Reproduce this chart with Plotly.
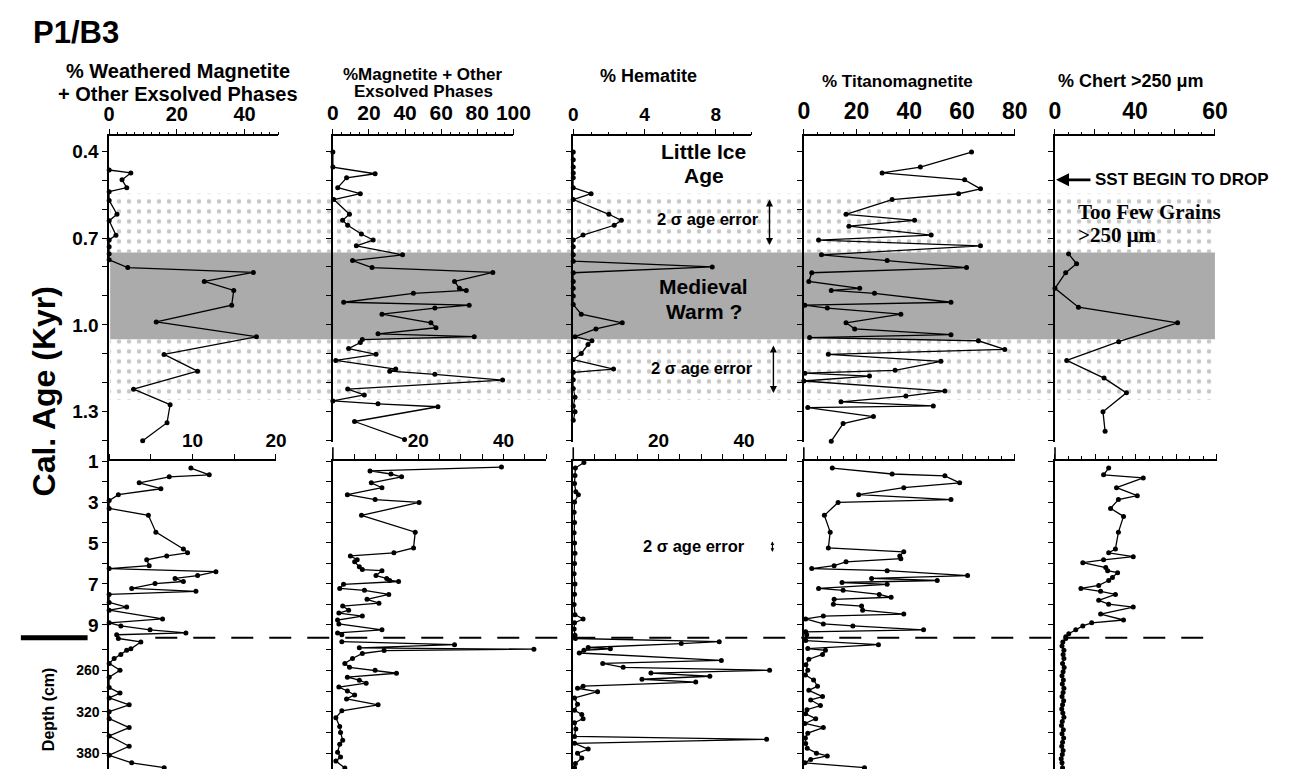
import plotly.graph_objects as go

# page body has an 8px default margin: map reference pixels into the figure
OFF = 8
W, H = 1273, 761
def fx(p): return (p - OFF) / W
def fy(p): return 1 - (p - OFF) / H

FONT = "Liberation Sans, Arial, sans-serif"
SERIF = "Liberation Serif, Times New Roman, serif"

# ---------------- DATA ----------------
# Column 1: % Weathered Magnetite + Other Exsolved Phases
wm_top_age = [0.465, 0.475, 0.499, 0.526, 0.54, 0.57, 0.618, 0.64, 0.69, 0.707, 0.73, 0.755, 0.775,
              0.802, 0.819, 0.85, 0.881, 0.932, 0.99, 1.041, 1.102, 1.16, 1.222, 1.276, 1.338, 1.40]
wm_top_val = [0, 6.4, 3.8, 5.2, 0, 0, 2.3, 0, 2.0, 0, 0, 0, 0,
              5.5, 42.6, 28.1, 36.8, 36.2, 13.9, 43.5, 16.2, 26.1, 7.2, 18, 17.1, 9.9]
wm_mid_age = [1.34, 1.67, 1.77, 2.06, 2.35, 2.64, 2.93, 3.31, 3.65, 4.47, 5.29, 5.48, 5.63, 5.82, 6.11,
              6.25, 6.40, 6.59, 6.73, 6.88, 6.98, 7.22, 7.36, 7.51, 7.9, 8.13, 8.28, 8.71, 8.9, 9.05,
              9.24, 9.39, 9.48]
wm_mid_val = [9.8, 12.0, 7.2, 3.6, 6.2, 1.1, 0, 0, 4.7, 5.6, 8.9, 9.4, 6.9, 4.5, 4.8,
              0, 12.8, 10.6, 7.9, 8.9, 5.5, 2.7, 10.4, 0, 0, 2.1, 0, 6.4, 0, 1.4,
              4.9, 9.2, 0.9]
wm_bot_dep = [214, 219, 229, 231, 237, 243, 250, 260, 270, 285, 293, 300, 310, 320, 330, 343, 355, 370,
              383, 394, 401]
wm_bot_val = [1.1, 3.8, 2.6, 2.1, 1.4, 0.6, 0, 1.3, 0, 0, 1.3, 0, 2.4, 0, 0, 2.4, 0, 2.4,
              0, 2.7, 6.6]

# Column 2: % Magnetite + Other Exsolved Phases
mg_top_age = [0.403, 0.455, 0.478, 0.492, 0.526, 0.547, 0.567, 0.618, 0.639, 0.656, 0.686, 0.707, 0.727,
              0.758, 0.778, 0.802, 0.819, 0.85, 0.874, 0.881, 0.891, 0.922, 0.932, 0.942, 0.963, 0.993,
              1.01, 1.031, 1.041, 1.051, 1.061, 1.082, 1.102, 1.123, 1.153, 1.16, 1.171, 1.191, 1.222,
              1.242, 1.263, 1.273, 1.283, 1.334, 1.396]
mg_top_val = [0, 0, 23.4, 7.6, 2.7, 15.2, 0.5, 9.2, 5.4, 8.2, 15.8, 22.3, 13.0,
              38.6, 10.9, 21.7, 88.6, 67.4, 70.1, 73.9, 44.6, 6.0, 75.5, 56.5, 27.2, 54.3,
              57.1, 25, 78.3, 16.3, 15.2, 8.7, 23.9, 1.6, 34.8, 31.5, 56.5, 94, 8.2,
              17.4, 0, 25, 58.2, 12, 39.7]
mg_mid_age = [1.29, 1.48, 1.63, 1.77, 2.06, 2.30, 2.64, 2.88, 3.02, 3.65, 4.47, 5.24, 5.48, 5.63, 5.82,
              5.92, 6.16, 6.30, 6.35, 6.59, 6.73, 6.83, 6.88, 7.02, 7.22, 7.31, 7.51, 7.75, 7.94, 8.08,
              8.28, 8.42, 8.57, 8.76, 8.95, 9.24, 9.39, 9.48]
mg_mid_val = [39.5, 8.7, 13.6, 16.1, 9.0, 11.5, 3.4, 9.9, 20.2, 6.7, 19.3, 18.9, 14.3, 4.1, 5.7,
              5.1, 6.2, 6.9, 11.5, 10.1, 12.6, 13.3, 15.4, 2.5, 1.6, 7.4, 13.1, 8.0, 10.8, 2.3,
              3.7, 1.4, 6.9, 1.1, 1.4, 11.5, 1.1, 2.1]
mg_bot_dep = [218.6, 222.9, 227.5, 229.5, 231.4, 235.7, 242.9, 250, 255.7, 260, 264.3, 270, 274.3, 278.6,
              284.3, 290, 295.7, 301.4, 310, 318.6, 328.6, 341.4, 350, 361.4, 367, 378.6, 385.7, 391.4,
              401.4]
mg_bot_val = [2.1, 28.5, 6.2, 47.1, 12, 6.9, 4.6, 2.8, 3.9, 9.9, 14.9, 3.4, 6.2, 7.8,
              1.4, 3.4, 5.1, 3.2, 10.6, 2.1, 0.7, 1.6, 1.8, 2.3, 1.6, 1.1, 1.8, 0.7,
              2.8]

# Column 3: % Hematite
he_top_age = [0.403, 0.43, 0.455, 0.475, 0.492, 0.526, 0.547, 0.567, 0.618, 0.639, 0.656, 0.69, 0.707,
              0.73, 0.758, 0.78, 0.80, 0.82, 0.85, 0.874, 0.90, 0.93, 0.963, 0.993, 1.014, 1.041,
              1.055, 1.068, 1.099, 1.12, 1.153, 1.164, 1.19, 1.22, 1.25, 1.28, 1.30, 1.33]
he_top_val = [0, 0, 0, 0, 0, 0, 1.0, 0, 2.0, 2.7, 2.3, 0.55, 0,
              0, 0, 0, 7.8, 0, 0, 0, 0, 0, 0.45, 2.75, 1.27, 0.1,
              1.05, 0.83, 0.45, 0, 2.26, 0, 0, 0, 0.1, 0, 0.1, 0]
he_mid_age = [1.07, 1.34, 1.7, 2.1, 2.5, 2.64, 3.0, 3.5, 4.0, 4.5, 5.0, 5.5, 6.0, 6.5, 7.0,
              7.5, 8.0, 8.5, 8.71, 8.9, 9.2, 9.5]
he_mid_val = [2.5, 0.5, 0.4, 0.3, 0.6, 1.2, 0.3, 0.2, 0.3, 0.2, 0.3, 0.4, 0.3, 0.2, 0.4,
              0.3, 0.2, 0.4, 2.3, 0.3, 0.2, 0.4]
he_bot_dep = [214, 218.6, 221.4, 227, 229, 231, 235, 245.7, 250, 255.7, 260, 264, 268.6, 273, 277,
              283, 286, 291, 300, 309, 318, 324, 330, 336, 345, 355.7, 360, 365.7, 374, 380, 387,
              395, 401]
he_bot_val = [0.5, 34.2, 25.3, 3.5, 8.7, 2.5, 1.4, 34.7, 6.9, 11.7, 46, 18.2, 32, 16.1, 28.7,
              2.3, 1.0, 5.7, 0.3, 1.0, 0.3, 2.0, 2.3, 0.3, 0.6, 0.3, 45.3, 0.3, 3.5, 1.0, 2.0,
              0.5, 0.3]

# Column 4: % Titanomagnetite
ti_top_age = [0.403, 0.455, 0.475, 0.499, 0.53, 0.547, 0.567, 0.618, 0.639, 0.659, 0.69, 0.707, 0.727,
              0.758, 0.778, 0.802, 0.82, 0.85, 0.874, 0.881, 0.891, 0.922, 0.932, 0.942, 0.963, 0.993,
              1.014, 1.034, 1.044, 1.055, 1.085, 1.102, 1.126, 1.157, 1.167, 1.177, 1.194, 1.229, 1.246,
              1.266, 1.28, 1.286, 1.317, 1.341, 1.402]
ti_top_val = [63.6, 44.2, 29.7, 61, 67, 58.7, 33.5, 16, 42, 17.1, 48.3, 5.6, 67,
              6.7, 31.6, 61.7, 3.0, 1.9, 21.2, 10.4, 26.8, 55.8, 0.4, 8.9, 36.8, 16,
              19.3, 55.8, 2.2, 66.2, 76.2, 9.3, 52, 34.6, 0.4, 24.9, 0, 53.5, 38.7,
              14.1, 49.1, 1.5, 26.4, 14.9, 10.4]
ti_mid_age = [1.34, 1.63, 1.72, 2.06, 2.30, 2.64, 2.88, 3.02, 3.65, 4.47, 5.24, 5.43, 5.63, 5.77, 5.92,
              6.11, 6.25, 6.35, 6.59, 6.73, 6.83, 6.93, 7.02, 7.22, 7.31, 7.51, 7.65, 7.75, 7.99, 8.08,
              8.28, 8.47, 8.57, 8.71, 8.95, 9.05, 9.24, 9.34, 9.48]
ti_mid_val = [10.8, 33.5, 53.5, 59.1, 37.9, 20.8, 55.8, 13, 7.8, 10, 9.3, 37.9, 36.4, 36.8, 16,
              11.5, 3.0, 31.6, 62.1, 25.7, 50.6, 14.5, 31.6, 5.6, 14.9, 28.6, 33.1, 11.5, 11.2, 21.9,
              22.3, 37.9, 7.4, 0.7, 7.4, 18.6, 45.4, 0.7, 1.1]
ti_bot_dep = [217, 222.9, 228.6, 231, 237, 244, 252, 260, 267, 274, 283, 289, 298, 303, 311, 317, 323,
              330, 337, 343, 351, 358, 366, 373, 380, 384, 389, 394, 401]
ti_bot_val = [0.7, 28.3, 1.5, 8.2, 7.1, 1.9, 0.8, 1.5, 0.6, 3.7, 5.2, 1.9, 7.1, 2.6, 6.3, 1.2, 0.7,
              4.5, 0.4, 7.4, 1.5, 0.6, 0.7, 1.3, 4.8, 8.9, 2.6, 0.4, 23]

# Column 5: % Chert >250 um
ch_top_age = [0.755, 0.789, 0.82, 0.874, 0.939, 0.993, 1.058, 1.123, 1.184, 1.235, 1.30, 1.368]
ch_top_val = [5.1, 8.1, 4.0, 0, 8.8, 46, 23.9, 4.4, 18.4, 26.8, 18, 18.8]
ch_mid_age = [1.34, 1.67, 1.82, 2.30, 2.69, 2.88, 3.31, 3.70, 4.47, 5.29, 5.48, 5.67, 5.82, 5.96, 6.20,
              6.35, 6.45, 6.69, 6.83, 7.07, 7.22, 7.36, 7.51, 7.80, 7.99, 8.13, 8.47, 8.76, 8.90, 9.05,
              9.24, 9.43, 9.58]
ch_mid_val = [19.9, 18, 32.7, 22.8, 30.5, 23.5, 20.6, 25.4, 23.5, 22.4, 19.9, 29, 18, 10.3, 18.8,
              19.5, 23.2, 21.3, 19.9, 16.2, 9.6, 16.9, 22.4, 16.2, 19.9, 29, 16.9, 25.4, 13.6, 10.3,
              7.7, 5.1, 4.0]
ch_bot_dep = [214, 219, 225, 231, 237, 243, 250, 256, 262, 268, 274, 280, 286, 292, 298, 304, 310, 316,
              322, 328, 334, 340, 346, 352, 358, 364, 370, 376, 382, 388, 394, 401]
ch_bot_val = [4.0, 2.9, 2.6, 3.3, 3.0, 3.3, 2.8, 3.4, 3.0, 2.6, 3.1, 2.7, 3.3, 3.0, 2.6, 3.2, 2.8, 2.5,
              2.9, 3.3, 2.7, 2.4, 3.1, 2.6, 3.2, 2.8, 2.5, 3.0, 2.7, 2.3, 2.6, 2.8]

# Shaded intervals (Cal. age, kyr)
medieval_band = [0.75, 1.05]
age_error_bands = [[0.545, 0.75], [1.05, 1.26]]

# ---------------- LAYOUT GEOMETRY (reference pixels) ----------------
TOP_PX = (128, 438)
TOP_RNG = [1.406, 0.349]
TOP1_PX = (128, 457)          # first column: axis line continuous to the mid panel
TOP1_RNG = [1.4706, 0.349]
MID_PX = (457, 636)
MID_RNG = [9.627, 1.0]
BOT_PX = (636, 769)
BOT_RNG = [402.9, 212.9]

columns = [
    dict(top=(wm_top_val, wm_top_age), mid=(wm_mid_val, wm_mid_age), bot=(wm_bot_val, wm_bot_dep),
         tdom=(105, 277.5), trng=[0, 50], ttv=[0, 20, 40], ttt=["0", "20", "40"], tminor=2.5, tfs=20,
         mdom=(105, 275), mrng=[0, 20], mtv=[0, 5, 10, 15, 20], mtt=["", "", "10", "", "20"], mminor=None,
         ylabels=True),
    dict(top=(mg_top_val, mg_top_age), mid=(mg_mid_val, mg_mid_age), bot=(mg_bot_val, mg_bot_dep),
         tdom=(333, 517), trng=[0, 100], ttv=[0, 20, 40, 60, 80, 100],
         ttt=["0", "20", "40", "60", "80", "100"], tminor=5, tfs=21,
         mdom=(333, 550.5), mrng=[0, 50], mtv=list(range(0, 55, 5)),
         mtt=["", "", "", "", "20", "", "", "", "40", "", ""], mminor=None, ylabels=False),
    dict(top=(he_top_val, he_top_age), mid=(he_mid_val, he_mid_age), bot=(he_bot_val, he_bot_dep),
         tdom=(578, 759.6), trng=[0, 10], ttv=[0, 4, 8], ttt=["0", "4", "8"], tminor=1, tfs=19,
         mdom=(578, 795.5), mrng=[0, 50], mtv=list(range(0, 55, 5)),
         mtt=["", "", "", "", "20", "", "", "", "40", "", ""], mminor=None, ylabels=False),
    dict(top=(ti_top_val, ti_top_age), mid=(ti_mid_val, ti_mid_age), bot=(ti_bot_val, ti_bot_dep),
         tdom=(813, 1028), trng=[0, 80], ttv=[0, 20, 40, 60, 80], ttt=["0", "20", "40", "60", "80"],
         tminor=5, tfs=23,
         mdom=(813, 1028), mrng=[0, 80], mtv=[0, 20, 40, 60, 80], mtt=[""] * 5, mminor=5, ylabels=False),
    dict(top=(ch_top_val, ch_top_age), mid=(ch_mid_val, ch_mid_age), bot=(ch_bot_val, ch_bot_dep),
         tdom=(1069, 1232), trng=[0, 60], ttv=[0, 15, 30, 45, 60], ttt=["0", "", "40", "", "60"],
         tminor=5, tfs=23,
         mdom=(1069, 1234), mrng=[0, 60], mtv=[0, 15, 30, 45, 60], mtt=[""] * 5, mminor=5, ylabels=False),
]

fig = go.Figure()
layout = {}

def clamp(v):
    return min(1.0, max(0.0, v))

def ydom(px):
    return [clamp(fy(px[1])), clamp(fy(px[0]))]

def xdom(px):
    return [clamp(fx(px[0])), clamp(fx(px[1]))]

# ---- background subplot for shaded bands (x in paper units) ----
BAND_X = (fx(106), fx(1232))
layout["xaxis"] = dict(domain=[0, 1], range=[0, 1], visible=False, fixedrange=True)
layout["yaxis"] = dict(domain=ydom(TOP_PX), range=TOP_RNG, visible=False, anchor="x")
fig.add_trace(go.Scatter(
    x=[BAND_X[0], BAND_X[1], BAND_X[1], BAND_X[0], BAND_X[0]],
    y=[medieval_band[0], medieval_band[0], medieval_band[1], medieval_band[1], medieval_band[0]],
    fill="toself", fillcolor="#ababab", mode="none", xaxis="x", yaxis="y", hoverinfo="skip"))
for b in age_error_bands:
    fig.add_trace(go.Scatter(
        x=[BAND_X[0], BAND_X[1], BAND_X[1], BAND_X[0], BAND_X[0]],
        y=[b[0], b[0], b[1], b[1], b[0]],
        fill="toself", fillcolor="rgba(0,0,0,0)", mode="none", xaxis="x", yaxis="y",
        fillpattern=dict(shape=".", fgcolor="#8f8f8f", bgcolor="rgba(0,0,0,0)", size=10,
                         solidity=0.16, fillmode="overlay"),
        hoverinfo="skip"))

line_style = dict(color="black", width=1.3)
marker_style = dict(color="black", size=5)

def tickfont(s):
    return dict(family=FONT, size=s, color="black", weight="bold")

idx = 2
for ci, c in enumerate(columns):
    for row in ("top", "mid", "bot"):
        xid, yid = f"x{idx}", f"y{idx}"
        xv, yv = c[row]
        fig.add_trace(go.Scatter(x=xv, y=yv, mode="lines+markers", line=line_style,
                                 marker=marker_style, xaxis=xid, yaxis=yid, cliponaxis=False,
                                 hoverinfo="skip"))
        if row == "top":
            xa = dict(domain=xdom(c["tdom"]), range=c["trng"], side="top", anchor=yid,
                      tickmode="array", tickvals=c["ttv"], ticktext=c["ttt"],
                      ticks="outside", ticklen=6, tickwidth=1.2, tickcolor="black",
                      minor=dict(dtick=c["tminor"], tick0=0, ticks="outside", ticklen=3,
                                 tickcolor="black", tickwidth=1),
                      showline=True, linecolor="black", linewidth=1.6,
                      tickfont=tickfont(c["tfs"]), showgrid=False, zeroline=False)
            px_ext, rng = (TOP1_PX, TOP1_RNG) if ci == 0 else (TOP_PX, TOP_RNG)
            ya = dict(domain=ydom(px_ext), range=rng, anchor=xid,
                      showline=True, linecolor="black", linewidth=1.6,
                      ticks="outside", ticklen=5, tickcolor="black", showgrid=False, zeroline=False)
            if c["ylabels"]:
                ya.update(tickmode="array", tickvals=[0.4, 0.7, 1.0, 1.3],
                          ticktext=["0.4", "0.7", "1.0", "1.3"], tickfont=tickfont(19),
                          minor=dict(dtick=0.1, tick0=0.4, ticks="outside", ticklen=5,
                                     tickcolor="black"))
            else:
                ya.update(tickmode="linear", tick0=0.4, dtick=0.1, showticklabels=False)
        elif row == "mid":
            xa = dict(domain=xdom(c["mdom"]), range=c["mrng"], side="top", anchor=yid,
                      tickmode="array", tickvals=c["mtv"], ticktext=c["mtt"],
                      ticks="outside", ticklen=5, tickwidth=1.2, tickcolor="black",
                      showline=True, linecolor="black", linewidth=1.6,
                      tickfont=tickfont(19), showgrid=False, zeroline=False)
            if c["mminor"]:
                xa["minor"] = dict(dtick=c["mminor"], tick0=0, ticks="outside", ticklen=3,
                                   tickcolor="black")
            ya = dict(domain=ydom(MID_PX), range=MID_RNG, anchor=xid,
                      showline=True, linecolor="black", linewidth=1.6,
                      ticks="outside", ticklen=5, tickcolor="black", showgrid=False, zeroline=False)
            if c["ylabels"]:
                ya.update(tickmode="array", tickvals=[1, 3, 5, 7, 9],
                          ticktext=["1", "3", "5", "7", "9"], tickfont=tickfont(19),
                          minor=dict(dtick=1, tick0=1, ticks="outside", ticklen=5,
                                     tickcolor="black"))
            else:
                ya.update(tickmode="linear", tick0=1, dtick=1, showticklabels=False)
        else:
            xa = dict(domain=xdom(c["mdom"]), range=c["mrng"], visible=False, anchor=yid)
            ya = dict(domain=ydom(BOT_PX), range=BOT_RNG, anchor=xid,
                      showline=True, linecolor="black", linewidth=1.6,
                      ticks="outside", ticklen=5, tickcolor="black", showgrid=False, zeroline=False)
            if c["ylabels"]:
                ya.update(tickmode="array", tickvals=[260, 320, 380],
                          ticktext=["260", "320", "380"], tickfont=tickfont(14),
                          minor=dict(dtick=30, tick0=230, ticks="outside", ticklen=5,
                                     tickcolor="black"))
            else:
                ya.update(tickmode="linear", tick0=230, dtick=30, showticklabels=False)
        layout[f"xaxis{idx}"] = xa
        layout[f"yaxis{idx}"] = ya
        idx += 1

def txt(text, x, y, size, xanchor="center", family=FONT, angle=0):
    return dict(text=f"<b>{text}</b>", x=fx(x), y=fy(y), xref="paper",
                yref="paper", showarrow=False, xanchor=xanchor, yanchor="middle", textangle=angle,
                font=dict(family=family, size=size, color="black"))

annotations = [
    txt("P1/B3", 25, 23, 31, xanchor="left"),
    txt("% Weathered Magnetite", 175, 62, 20),
    txt("+ Other Exsolved Phases", 175, 85, 20),
    txt("%Magnetite + Other", 425, 65, 17),
    txt("Exsolved Phases", 425, 82, 17),
    txt("% Hematite", 655, 67, 18),
    txt("% Titanomagnetite", 908, 72, 17),
    txt("% Chert >250 μm", 1146, 72, 18),
    txt("Cal. Age (Kyr)", 39, 386, 32, angle=-90),
    txt("Depth (cm)", 43, 708, 16, angle=-90),
    txt("Little Ice", 711, 143, 21),
    txt("Age", 711, 168, 21),
    txt("2 σ age error", 715, 212, 16.5),
    txt("Medieval", 711, 280, 21),
    txt("Warm ?", 711, 305, 21),
    txt("2 σ age error", 709, 363, 16.5),
    txt("2 σ age error", 701, 543, 16.5),
    txt("SST BEGIN TO DROP", 1108, 172, 17, xanchor="left"),
    txt("Too Few Grains", 1090, 205, 21, xanchor="left", family=SERIF),
    txt(">250 μm", 1090, 228, 21, xanchor="left", family=SERIF),
]

def arrow(x, y0, y1, size=1, width=1.4):
    return dict(x=fx(x), y=fy(y1), xref="paper", yref="paper", axref="pixel", ayref="pixel",
                ax=0, ay=-(y1 - y0), text="", showarrow=True, arrowhead=2, arrowsize=size,
                arrowwidth=width, arrowcolor="black", arrowside="end+start")

annotations += [
    arrow(778, 191, 238),
    arrow(782, 339, 388),
    arrow(781, 537, 549, size=0.6, width=1.2),
    dict(x=fx(1070), y=fy(172), xref="paper", yref="paper", axref="pixel", ayref="pixel",
         ax=36, ay=0, text="", showarrow=True, arrowhead=2, arrowsize=1, arrowwidth=2.6,
         arrowcolor="black"),
]

shapes = [
    dict(type="line", xref="paper", yref="paper", x0=fx(152), x1=fx(1220), y0=fy(636), y1=fy(636),
         line=dict(color="black", width=2, dash="22px,16px")),
    dict(type="line", xref="paper", yref="paper", x0=fx(15), x1=fx(83), y0=fy(636), y1=fy(636),
         line=dict(color="black", width=5)),
]
# short stubs of the lower y axes rising above the mid-panel x axis (columns 2-5)
for c in columns[1:]:
    shapes.append(dict(type="line", xref="paper", yref="paper", x0=fx(c["mdom"][0]), x1=fx(c["mdom"][0]),
                       y0=fy(443), y1=fy(457), line=dict(color="black", width=1.6)))

fig.update_layout(**layout)
fig.update_layout(width=W, height=H, autosize=False, margin=dict(l=0, r=0, t=0, b=0),
                  paper_bgcolor="white", plot_bgcolor="rgba(0,0,0,0)", showlegend=False,
                  annotations=annotations, shapes=shapes)
fig.write_html("out.html")
